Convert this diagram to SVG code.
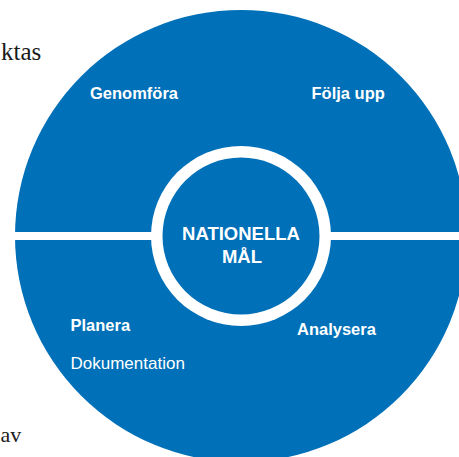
<svg xmlns="http://www.w3.org/2000/svg" width="459" height="457" viewBox="0 0 459 457">
<style>
.bg{fill:#ffffff}
.blue{fill:#0070b8}
.white{fill:#ffffff}
.lbl{font-family:"Liberation Sans",Arial,sans-serif;font-weight:bold;font-size:16.5px;fill:#ffffff}
.reg{font-family:"Liberation Sans",Arial,sans-serif;font-size:17px;fill:#ffffff}
.ctr{font-family:"Liberation Sans",Arial,sans-serif;font-weight:bold;font-size:18.5px;fill:#ffffff;text-anchor:middle}
.page{font-family:"Liberation Serif","Times New Roman",serif;fill:#1a1a1a}
</style>
<rect class="bg" x="0" y="0" width="459" height="457"/>
<g id="page-text">
<text class="page" x="1" y="60" font-size="25">ktas</text>
<text class="page" x="0.5" y="442" font-size="22">av</text>
</g>
<g id="outer-circle">
<circle class="blue" cx="241" cy="236" r="226"/>
</g>
<g id="divider">
<rect class="white" x="0" y="232" width="459" height="8"/>
</g>
<g id="center">
<circle class="white" cx="241" cy="236" r="90"/>
<circle class="blue" cx="241" cy="236" r="78.5"/>
<text class="ctr" x="241" y="240">NATIONELLA</text>
<text class="ctr" x="242" y="263">MÅL</text>
</g>
<g id="genomfora"><text class="lbl" x="90" y="99">Genomföra</text></g>
<g id="folja-upp"><text class="lbl" x="311.5" y="99">Följa upp</text></g>
<g id="planera">
<text class="lbl" x="70.5" y="331">Planera</text>
<text class="reg" x="70.5" y="369">Dokumentation</text>
</g>
<g id="analysera"><text class="lbl" x="297" y="335">Analysera</text></g>
</svg>
